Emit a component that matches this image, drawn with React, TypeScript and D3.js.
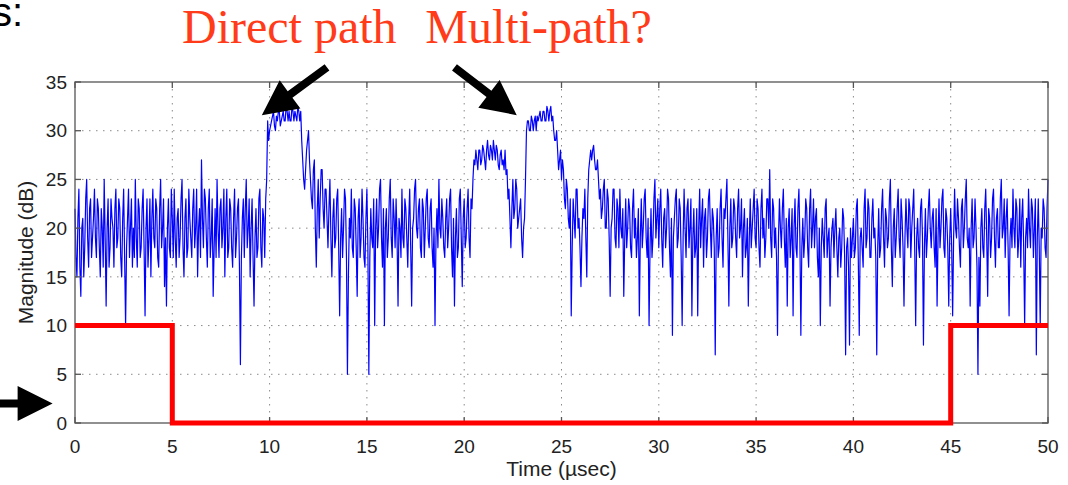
import React from "react";
import * as d3 from "d3";

const WIDTH = 1068;
const HEIGHT = 485;

// Plot frame in page pixels
const PLOT_LEFT = 75;
const PLOT_RIGHT = 1048;
const PLOT_TOP = 82;
const PLOT_BOTTOM = 423;

// Received magnitude, one sample every 0.1 µsec from 0 to 50 µsec
const sampleStep = 0.1;
const magnitudeDb = [
  22, 15, 24, 13, 21, 18, 25, 16, 23, 19,
  24, 17, 22, 15, 20, 25, 12, 23, 18, 21,
  16, 24, 19, 22, 15, 24, 10, 21, 17, 23,
  20, 25, 16, 22, 18, 24, 11, 23, 19, 15,
  24, 18, 22, 16, 25, 20, 14, 12, 23, 17,
  21, 24, 16, 22, 19, 25, 15, 23, 18, 21,
  17, 24, 20, 15, 22, 27, 18, 23, 16, 24,
  19, 13, 22, 25, 17, 23, 20, 15, 24, 18,
  22, 16, 24, 19, 23, 6, 21, 17, 25, 20,
  15, 23, 12, 22, 18, 24, 16, 21, 23, 31,
  30, 31, 32, 30, 31, 32, 31, 32, 31, 32,
  32, 31, 32, 32, 31, 32, 32, 27, 24, 28,
  30, 25, 22, 27, 16, 25, 23, 26, 20, 24,
  18, 25, 15, 23, 19, 24, 11, 22, 20, 23,
  5, 21, 24, 17, 22, 13, 23, 19, 21, 16,
  24, 5, 22, 18, 10, 23, 20, 25, 16, 10,
  22, 19, 25, 17, 21, 23, 12, 20, 24, 18,
  22, 16, 24, 12, 21, 25, 19, 23, 17, 22,
  20, 24, 18, 23, 16, 10, 22, 25, 19, 21,
  17, 23, 20, 24, 15, 12, 22, 18, 24, 14,
  23, 19, 24, 17, 22, 27, 28, 26, 28, 27,
  28, 26, 29, 27, 28, 29, 27, 28, 26, 28,
  27, 28, 26, 24, 18, 25, 22, 24, 21, 23,
  17, 21, 30, 31, 30, 31, 31, 30, 31, 32,
  31, 32, 31, 32, 32, 31, 30, 29, 28, 27,
  25, 26, 22, 24, 20, 11, 23, 19, 24, 21,
  14, 22, 24, 15, 26, 28, 28, 27, 26, 25,
  24, 22, 25, 20, 23, 13, 21, 24, 18, 22,
  24, 19, 13, 23, 20, 22, 17, 24, 21, 19,
  11, 23, 20, 24, 17, 10, 22, 19, 25, 21,
  18, 24, 16, 22, 20, 23, 15, 9, 21, 24,
  19, 22, 10, 24, 17, 23, 20, 11, 22, 18,
  11, 24, 21, 16, 22, 19, 24, 17, 21, 7,
  22, 18, 24, 16, 21, 25, 12, 23, 19, 22,
  17, 24, 20, 15, 22, 18, 12, 23, 20, 24,
  18, 22, 16, 24, 21, 19, 23, 26, 17, 22,
  20, 9, 23, 18, 24, 16, 12, 22, 19, 11,
  23, 17, 24, 9, 21, 19, 22, 16, 24, 20,
  18, 22, 15, 10, 21, 17, 23, 19, 12, 20,
  17, 22, 15, 20, 18, 21, 7, 19, 8, 17,
  21, 18, 23, 9, 20, 16, 24, 19, 22, 17,
  23, 20, 7, 22, 18, 24, 16, 21, 19, 25,
  14, 22, 19, 24, 17, 21, 12, 23, 18, 22,
  20, 24, 10, 21, 17, 23, 8, 22, 19, 24,
  18, 22, 16, 12, 23, 20, 24, 17, 21, 12,
  22, 11, 24, 19, 21, 16, 23, 20, 25, 18,
  12, 23, 19, 20, 5, 12, 22, 17, 24, 13,
  21, 19, 24, 16, 22, 18, 25, 20, 17, 23,
  11, 21, 24, 18, 22, 19, 16, 23, 10, 21,
  24, 18, 22, 20, 7, 23, 10, 19, 22, 17,
  25,
];

// Interleaved samples taken half a step later (0.05 µsec, 0.15 µsec, ...)
const magnitudeDbHalf = [
  17, 21, 16, 20, 15, 23, 19, 22, 17, 21,
  19, 23, 18, 22, 16, 19, 20, 16, 23, 20,
  22, 18, 23, 17, 21, 17, 18, 24, 20, 16,
  17, 19, 23, 17, 22, 18, 20, 16, 23, 21,
  19, 23, 17, 22, 18, 23, 19, 20, 18, 24,
  17, 19, 21, 17, 23, 18, 21, 17, 24, 19,
  22, 18, 24, 20, 17, 21, 24, 19, 22, 17,
  23, 18, 17, 20, 22, 18, 24, 21, 17, 23,
  18, 21, 17, 22, 16, 17, 23, 22, 18, 23,
  20, 17, 19, 17, 23, 18, 22, 17, 25, 29,
  30.5, 31.5, 30.5, 31.5, 32, 30.5, 31.5, 31, 32.5, 31,
  31, 32.5, 31, 31.5, 32.5, 31, 29, 25, 26, 29,
  27, 23, 26, 20, 22, 19, 26, 22, 24, 21,
  22, 19, 21, 18, 23, 18, 19, 17, 24, 17,
  15, 19, 18, 23, 18, 21, 17, 24, 17, 21,
  18, 17, 19, 23, 20, 18, 24, 19, 22, 20,
  17, 23, 19, 23, 18, 19, 21, 17, 19, 23,
  19, 21, 18, 20, 24, 20, 22, 18, 23, 17,
  23, 19, 22, 18, 20, 19, 18, 20, 23, 18,
  21, 18, 23, 18, 21, 19, 17, 23, 19, 21,
  18, 22, 19, 23, 25, 26.5, 27, 28, 26.5, 28.5,
  27, 28, 27.5, 28.5, 27, 28, 28.5, 26.5, 27.5, 26.5,
  26, 25.5, 23, 21, 22, 21, 25, 20, 22, 19,
  20, 25, 31, 30, 31.5, 30, 31.5, 31.5, 31.5, 31,
  32, 31, 32.5, 31, 32.5, 31.5, 29, 30, 26, 28,
  27, 23, 25, 21, 23, 18, 21, 24, 20, 18,
  19, 21, 19, 23, 27, 27, 28.5, 26, 27, 23,
  21, 24, 20, 24, 19, 20, 24, 19, 23, 18,
  20, 22, 19, 18, 23, 18, 22, 19, 17, 22,
  19, 18, 23, 19, 21, 18, 17, 23, 19, 23,
  22, 19, 21, 18, 24, 18, 21, 19, 23, 18,
  23, 17, 19, 20, 22, 18, 23, 19, 17, 22,
  20, 18, 23, 21, 17, 23, 20, 22, 18, 19,
  17, 22, 19, 22, 23, 19, 20, 18, 23, 19,
  22, 19, 23, 20, 17, 21, 19, 18, 22, 19,
  23, 18, 22, 19, 17, 23, 20, 19, 23, 18,
  17, 19, 20, 22, 19, 21, 20, 17, 22, 20,
  18, 22, 19, 18, 17, 23, 18, 22, 18, 23,
  21, 17, 20, 18, 19, 22, 17, 20, 18, 21,
  20, 18, 19, 16, 22, 17, 18, 16, 20, 19,
  17, 22, 17, 19, 18, 22, 18, 23, 17, 21,
  19, 17, 18, 17, 22, 19, 22, 18, 23, 18,
  20, 17, 22, 19, 23, 18, 19, 20, 23, 17,
  22, 18, 19, 18, 22, 19, 18, 17, 22, 20,
  21, 18, 22, 19, 18, 23, 18, 22, 18, 19,
  18, 19, 20, 23, 18, 22, 18, 23, 19, 20,
  20, 18, 23, 16, 17, 20, 18, 22, 19, 22,
  17, 23, 19, 21, 18, 23, 19, 23, 21, 18,
  19, 18, 20, 23, 17, 23, 21, 18, 19, 18,
  20, 23, 17, 23, 19, 18, 20, 23, 18, 22,
];

// Gating window (held level after each breakpoint)
const gateTimes = [0, 5, 45, 50];
const gateLevels = [10, 0, 10, 10];

const xTicks = [0, 5, 10, 15, 20, 25, 30, 35, 40, 45, 50];
const yTicks = [0, 5, 10, 15, 20, 25, 30, 35];

// Callout labels and arrows, placed in axis units
const callouts = [
  { text: "Direct path", t: 5.5, v: 39.0 },
  { text: "Multi-path?", t: 18.0, v: 39.0 },
];
const arrows = [
  { from: [12.95, 36.5], to: [9.6, 31.6] },
  { from: [19.5, 36.5], to: [22.7, 31.6] },
  { from: [-3.95, 2.0], to: [-1.15, 2.0] },
];

const SANS = "'Liberation Sans', Arial, Helvetica, sans-serif";
const SERIF = "'Liberation Serif', 'Times New Roman', serif";

function arrowPolygon(x0: number, y0: number, x1: number, y1: number) {
  const shaft = 8;
  const headLen = 35;
  const headHalf = 17.5;
  const dx = x1 - x0;
  const dy = y1 - y0;
  const len = Math.hypot(dx, dy);
  const ux = dx / len;
  const uy = dy / len;
  const nx = -uy;
  const ny = ux;
  const bx = x1 - ux * headLen;
  const by = y1 - uy * headLen;
  const pts = [
    [x0 + nx * shaft / 2, y0 + ny * shaft / 2],
    [bx + nx * shaft / 2, by + ny * shaft / 2],
    [bx + nx * headHalf, by + ny * headHalf],
    [x1, y1],
    [bx - nx * headHalf, by - ny * headHalf],
    [bx - nx * shaft / 2, by - ny * shaft / 2],
    [x0 - nx * shaft / 2, y0 - ny * shaft / 2],
  ];
  return pts.map((p) => p.join(",")).join(" ");
}

type Sample = { t: number; v: number };

export default function App() {
  const x = d3.scaleLinear().domain([0, 50]).range([PLOT_LEFT, PLOT_RIGHT]);
  const y = d3.scaleLinear().domain([0, 35]).range([PLOT_BOTTOM, PLOT_TOP]);

  const signal: Sample[] = [];
  magnitudeDb.forEach((v, i) => {
    signal.push({ t: i * sampleStep, v });
    if (i < magnitudeDbHalf.length) {
      signal.push({ t: (i + 0.5) * sampleStep, v: magnitudeDbHalf[i] });
    }
  });
  const signalPath = d3
    .line<Sample>()
    .x((d) => x(d.t))
    .y((d) => y(d.v))(signal);

  const gate: Sample[] = gateTimes.map((t, i) => ({ t, v: gateLevels[i] }));
  const gatePath = d3
    .line<Sample>()
    .curve(d3.curveStepAfter)
    .x((d) => x(d.t))
    .y((d) => y(d.v))(gate);

  const tickLen = 6;

  return (
    <svg
      width={WIDTH}
      height={HEIGHT}
      style={{ position: "absolute", left: 0, top: 0, background: "#fff" }}
    >
      <rect x={0} y={0} width={WIDTH} height={HEIGHT} fill="#fff" />

      {/* dotted grid */}
      <g stroke="#8a8a8a" strokeWidth={1} strokeDasharray="1.5,5.5">
        {xTicks.slice(1, -1).map((t) => (
          <line key={"gx" + t} x1={x(t)} x2={x(t)} y1={PLOT_TOP} y2={PLOT_BOTTOM} />
        ))}
        {yTicks.slice(1, -1).map((v) => (
          <line key={"gy" + v} x1={PLOT_LEFT} x2={PLOT_RIGHT} y1={y(v)} y2={y(v)} />
        ))}
      </g>

      {/* signal */}
      <path d={signalPath || ""} fill="none" stroke="#0000ff" strokeWidth={1.2} strokeLinejoin="round" />

      {/* frame and inward ticks */}
      <g stroke="#555" strokeWidth={1.3} fill="none">
        <rect x={PLOT_LEFT} y={PLOT_TOP} width={PLOT_RIGHT - PLOT_LEFT} height={PLOT_BOTTOM - PLOT_TOP} />
        {xTicks.map((t) => (
          <g key={"tx" + t}>
            <line x1={x(t)} x2={x(t)} y1={PLOT_BOTTOM} y2={PLOT_BOTTOM - tickLen} />
            <line x1={x(t)} x2={x(t)} y1={PLOT_TOP} y2={PLOT_TOP + tickLen} />
          </g>
        ))}
        {yTicks.map((v) => (
          <g key={"ty" + v}>
            <line x1={PLOT_LEFT} x2={PLOT_LEFT + tickLen} y1={y(v)} y2={y(v)} />
            <line x1={PLOT_RIGHT} x2={PLOT_RIGHT - tickLen} y1={y(v)} y2={y(v)} />
          </g>
        ))}
      </g>

      {/* gating window */}
      <path d={gatePath || ""} fill="none" stroke="#ff0000" strokeWidth={5} strokeLinejoin="miter" />

      {/* tick labels */}
      <g fontFamily={SANS} fontSize={19} fill="#222">
        {xTicks.map((t) => (
          <text key={"lx" + t} x={x(t)} y={453} textAnchor="middle">
            {t}
          </text>
        ))}
        {yTicks.map((v) => (
          <text key={"ly" + v} x={PLOT_LEFT - 8} y={y(v)} dy="0.35em" textAnchor="end">
            {v}
          </text>
        ))}
      </g>

      {/* axis titles */}
      <text x={(PLOT_LEFT + PLOT_RIGHT) / 2} y={476} textAnchor="middle" fontFamily={SANS} fontSize={21} fill="#222">
        Time (µsec)
      </text>
      <text
        transform={`translate(33,${(PLOT_TOP + PLOT_BOTTOM) / 2}) rotate(-90)`}
        textAnchor="middle"
        fontFamily={SANS}
        fontSize={21}
        fill="#222"
      >
        Magnitude (dB)
      </text>

      {/* callouts */}
      {callouts.map((c) => (
        <text key={c.text} x={x(c.t)} y={y(c.v)} fontFamily={SERIF} fontSize={48} fill="#ff3b1a">
          {c.text}
        </text>
      ))}
      {arrows.map((a, i) => (
        <polygon
          key={"ar" + i}
          points={arrowPolygon(x(a.from[0]), y(a.from[1]), x(a.to[0]), y(a.to[1]))}
          fill="#000"
        />
      ))}

      <text x={-8} y={26} fontFamily={SANS} fontSize={40} fill="#000">
        s:
      </text>
    </svg>
  );
}
